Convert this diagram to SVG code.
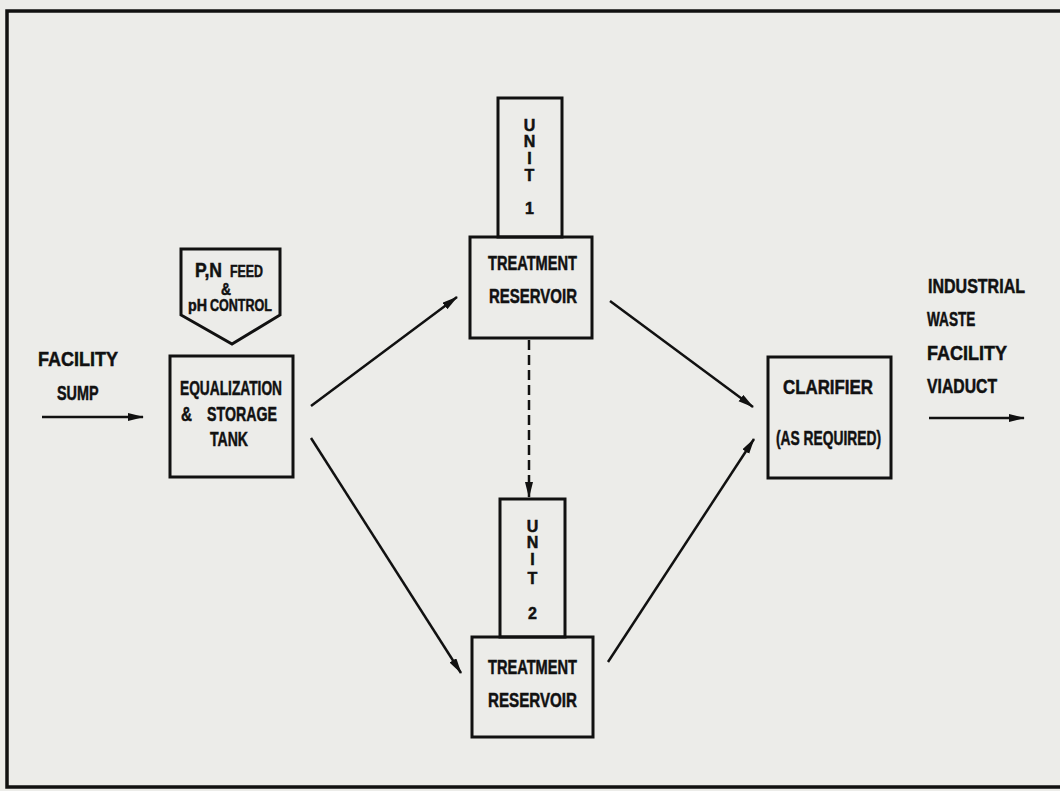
<svg xmlns="http://www.w3.org/2000/svg" width="1060" height="791" viewBox="0 0 1060 791">
<style>
.bg{fill:#ecece9}
.box{fill:none;stroke:#111;stroke-width:3}
.frame{fill:none;stroke:#111;stroke-width:3.5}
.t{font-family:"Liberation Sans",Arial,sans-serif;font-weight:bold;font-size:20px;fill:#111;stroke:#111;stroke-width:0.5}
.s{font-size:16px}
.u{font-size:16px;text-anchor:middle}
.line{stroke:#111;stroke-width:2.5;fill:none}
.dash{stroke:#111;stroke-width:2.5;fill:none;stroke-dasharray:10 5}
</style>
<defs>
<marker id="ah" markerUnits="userSpaceOnUse" markerWidth="17" markerHeight="10" refX="15" refY="4" orient="auto">
<path d="M0,0 L16,4 L0,8 z" fill="#111"/>
</marker>
</defs>
<rect class="bg" x="0" y="0" width="1060" height="791"/>
<path class="frame" d="M1062,11 L7,11 L7,787 L1062,787"/>

<g id="facility-sump">
<text class="t" x="38" y="365.5" textLength="80" lengthAdjust="spacingAndGlyphs">FACILITY</text>
<text class="t" transform="translate(57,399.5) scale(0.72,1)" x="0" y="0">SUMP</text>
</g>

<g id="feed">
<path class="box" d="M181,249 L280,249 L280,315 L232,344 L181,315 Z"/>
<text class="t" x="195" y="277" textLength="27" lengthAdjust="spacingAndGlyphs">P,N</text>
<text class="t s" x="230" y="277" textLength="33" lengthAdjust="spacingAndGlyphs">FEED</text>
<text class="t s" x="221" y="295" textLength="10" lengthAdjust="spacingAndGlyphs">&amp;</text>
<text class="t s" x="188" y="311" textLength="19" lengthAdjust="spacingAndGlyphs">pH</text>
<text class="t s" x="210" y="311" textLength="62" lengthAdjust="spacingAndGlyphs">CONTROL</text>
</g>

<g id="equalization">
<rect class="box" x="170" y="356" width="123" height="121"/>
<text class="t" x="180" y="394.5" textLength="102" lengthAdjust="spacingAndGlyphs">EQUALIZATION</text>
<text class="t" x="181" y="420.5" textLength="11" lengthAdjust="spacingAndGlyphs">&amp;</text>
<text class="t" x="207" y="420.5" textLength="70" lengthAdjust="spacingAndGlyphs">STORAGE</text>
<text class="t" x="210" y="445.5" textLength="38" lengthAdjust="spacingAndGlyphs">TANK</text>
</g>

<g id="unit1">
<rect class="box" x="498" y="98" width="64" height="139"/>
<text class="t u" x="529.5" y="131">U</text>
<text class="t u" x="529.5" y="147">N</text>
<text class="t u" x="529.5" y="164">I</text>
<text class="t u" x="529.5" y="181">T</text>
<text class="t u" x="529.5" y="214">1</text>
</g>

<g id="reservoir1">
<rect class="box" x="470" y="237" width="122" height="101"/>
<text class="t" x="488" y="270" textLength="89" lengthAdjust="spacingAndGlyphs">TREATMENT</text>
<text class="t" x="489" y="302.5" textLength="88" lengthAdjust="spacingAndGlyphs">RESERVOIR</text>
</g>

<g id="unit2">
<rect class="box" x="500" y="499" width="65" height="138"/>
<text class="t u" x="532.5" y="532">U</text>
<text class="t u" x="532.5" y="548">N</text>
<text class="t u" x="532.5" y="565">I</text>
<text class="t u" x="532.5" y="584">T</text>
<text class="t u" x="532.5" y="619">2</text>
</g>

<g id="reservoir2">
<rect class="box" x="472" y="637" width="121" height="100"/>
<text class="t" x="488" y="674" textLength="89" lengthAdjust="spacingAndGlyphs">TREATMENT</text>
<text class="t" x="488" y="707" textLength="89" lengthAdjust="spacingAndGlyphs">RESERVOIR</text>
</g>

<g id="clarifier">
<rect class="box" x="768" y="357" width="123" height="121"/>
<text class="t" x="783" y="393.5" textLength="90" lengthAdjust="spacingAndGlyphs">CLARIFIER</text>
<text class="t" x="776" y="444.5" textLength="105" lengthAdjust="spacingAndGlyphs">(AS REQUIRED)</text>
</g>

<g id="viaduct">
<text class="t" x="928" y="292.5" textLength="97" lengthAdjust="spacingAndGlyphs">INDUSTRIAL</text>
<text class="t" transform="translate(927,325.5) scale(0.68,1)" x="0" y="0">WASTE</text>
<text class="t" x="927" y="359.5" textLength="80" lengthAdjust="spacingAndGlyphs">FACILITY</text>
<text class="t" x="927" y="392.5" textLength="70" lengthAdjust="spacingAndGlyphs">VIADUCT</text>
</g>

<g id="connectors">
<line class="line" x1="42" y1="417" x2="143" y2="417" marker-end="url(#ah)"/>
<line class="line" x1="311" y1="406" x2="457" y2="297" marker-end="url(#ah)"/>
<line class="line" x1="311" y1="438" x2="461" y2="673" marker-end="url(#ah)"/>
<line class="line" x1="610" y1="301" x2="753" y2="407" marker-end="url(#ah)"/>
<line class="line" x1="608" y1="662" x2="754" y2="439" marker-end="url(#ah)"/>
<line class="dash" x1="529" y1="340" x2="529" y2="497" marker-end="url(#ah)"/>
<line class="line" x1="929" y1="418" x2="1024" y2="418" marker-end="url(#ah)"/>
</g>
</svg>
